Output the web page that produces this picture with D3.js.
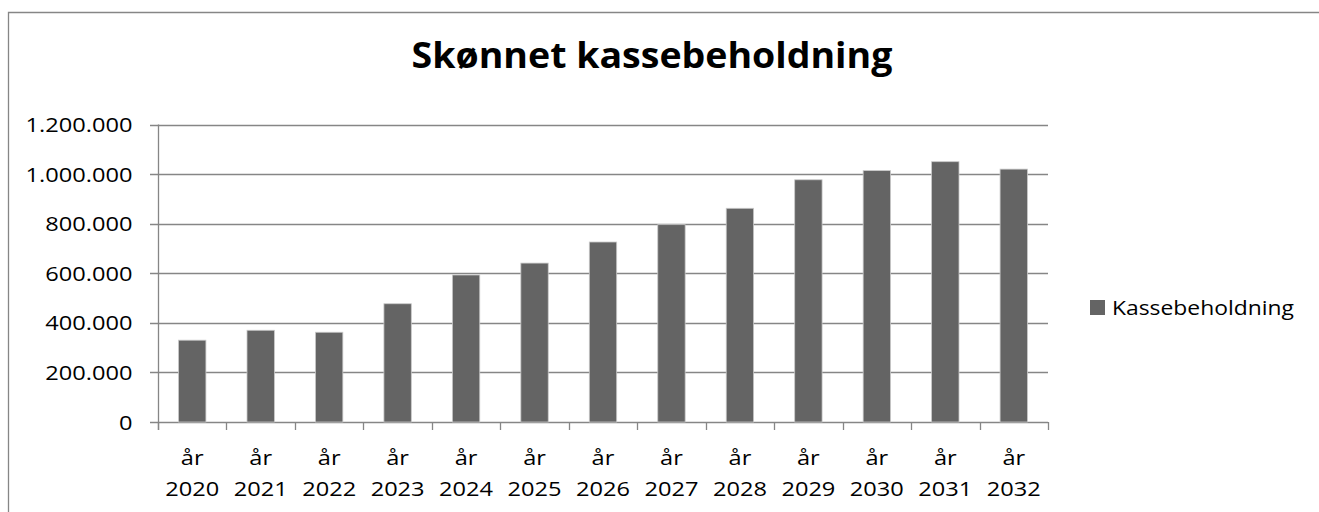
<!DOCTYPE html>
<html>
<head>
<meta charset="utf-8">
<script src="https://cdn.jsdelivr.net/npm/d3@7"></script>
<style>
  html, body { margin: 0; padding: 0; background: #fff; overflow: hidden; }
  svg { display: block; }
  text { font-family: "Open Sans", Lato, sans-serif; fill: #000; }
</style>
</head>
<body>
<svg id="chart" width="1319" height="512"></svg>
<script>
// ---- data ----
const title = "Skønnet kassebeholdning";
const seriesName = "Kassebeholdning";
const years = ["2020","2021","2022","2023","2024","2025","2026","2027","2028","2029","2030","2031","2032"];
const values = [330000, 370000, 362000, 477000, 593000, 641000, 726000, 796000, 862000, 977000, 1014000, 1050000, 1020000];
const yTicks = [0, 200000, 400000, 600000, 800000, 1000000, 1200000];
const xPrefix = "år";

// ---- layout ----
const plot = { left: 158, right: 1048, top: 124.5, bottom: 422 };
const gridColor = "#868686";
const barColor = "#646464";
const labelSize = 20;

const svg = d3.select("#chart");
const locale = d3.formatLocale({ decimal: ",", thousands: ".", grouping: [3], currency: ["", ""] });
const fmt = locale.format(",");

const x = d3.scaleBand().domain(years).range([plot.left, plot.right]).paddingInner(0.6).paddingOuter(0.3);
const y = d3.scaleLinear().domain([0, 1200000]).range([plot.bottom, plot.top]);

// horizontal stretch calibration (original rendering is wider than the fonts available)
function naturalWidth(str, size, weight) {
  const t = svg.append("text").attr("font-size", size).attr("font-weight", weight).text(str);
  const w = t.node().getComputedTextLength();
  t.remove();
  return w;
}
const yStretch = 107 / naturalWidth(fmt(1200000), labelSize, 400);
const xStretch = 54 / naturalWidth(years[0], labelSize, 400);
const legendStretch = 182 / naturalWidth(seriesName, labelSize, 400);
const titleSize = 35;
const titleStretch = 481 / naturalWidth(title, titleSize, 700);

// outer chart border: only top and left edges are inside the frame
svg.append("path")
  .attr("d", "M8.5,600 V12.5 H1319")
  .attr("fill", "none").attr("stroke", gridColor).attr("stroke-width", 1.3);

// title
svg.append("text")
  .attr("transform", `translate(652,68.3) scale(${titleStretch},1)`)
  .attr("text-anchor", "middle")
  .attr("font-size", titleSize).attr("font-weight", 700)
  .text(title);

// gridlines + y ticks
const gy = svg.append("g");
gy.selectAll("line.grid").data(yTicks).join("line")
  .attr("class", "grid")
  .attr("x1", plot.left - 8).attr("x2", plot.right)
  .attr("y1", d => Math.round(y(d)) + 0.5).attr("y2", d => Math.round(y(d)) + 0.5)
  .attr("stroke", gridColor).attr("stroke-width", 1.3);

gy.selectAll("text").data(yTicks).join("text")
  .attr("transform", d => `translate(132.5,${y(d) + 7.5}) scale(${yStretch},1)`)
  .attr("text-anchor", "end")
  .attr("font-size", labelSize)
  .text(d => fmt(d));

// y axis line
svg.append("line")
  .attr("x1", plot.left + 0.5).attr("x2", plot.left + 0.5)
  .attr("y1", plot.top).attr("y2", plot.bottom + 8)
  .attr("stroke", gridColor).attr("stroke-width", 1.3);

// bars
svg.append("g").selectAll("rect").data(years.map((yr, i) => ({ yr, v: values[i] }))).join("rect")
  .attr("x", d => x(d.yr))
  .attr("y", d => y(d.v))
  .attr("width", x.bandwidth())
  .attr("height", d => y(0) - y(d.v))
  .attr("fill", barColor)
  .attr("stroke", "#c9c9c9").attr("stroke-width", 0.8);

// x axis ticks at category boundaries
const step = x.step();
const bounds = d3.range(years.length + 1).map(i => plot.left + i * step);
svg.append("g").selectAll("line").data(bounds).join("line")
  .attr("x1", d => Math.round(d) + 0.5).attr("x2", d => Math.round(d) + 0.5)
  .attr("y1", plot.bottom).attr("y2", plot.bottom + 8)
  .attr("stroke", gridColor).attr("stroke-width", 1.3);

// x labels
const xl = svg.append("g").selectAll("g").data(years).join("g")
  .attr("transform", d => `translate(${x(d) + x.bandwidth() / 2},0)`);
xl.append("text")
  .attr("transform", `translate(0,465) scale(${xStretch},1)`)
  .attr("text-anchor", "middle").attr("font-size", labelSize)
  .text(xPrefix);
xl.append("text")
  .attr("transform", `translate(0,495.7) scale(${xStretch},1)`)
  .attr("text-anchor", "middle").attr("font-size", labelSize)
  .text(d => d);

// legend
svg.append("rect")
  .attr("x", 1090).attr("y", 300).attr("width", 15).attr("height", 15)
  .attr("fill", barColor);
svg.append("text")
  .attr("transform", `translate(1112,315) scale(${legendStretch},1)`)
  .attr("font-size", labelSize)
  .text(seriesName);
</script>
</body>
</html>
